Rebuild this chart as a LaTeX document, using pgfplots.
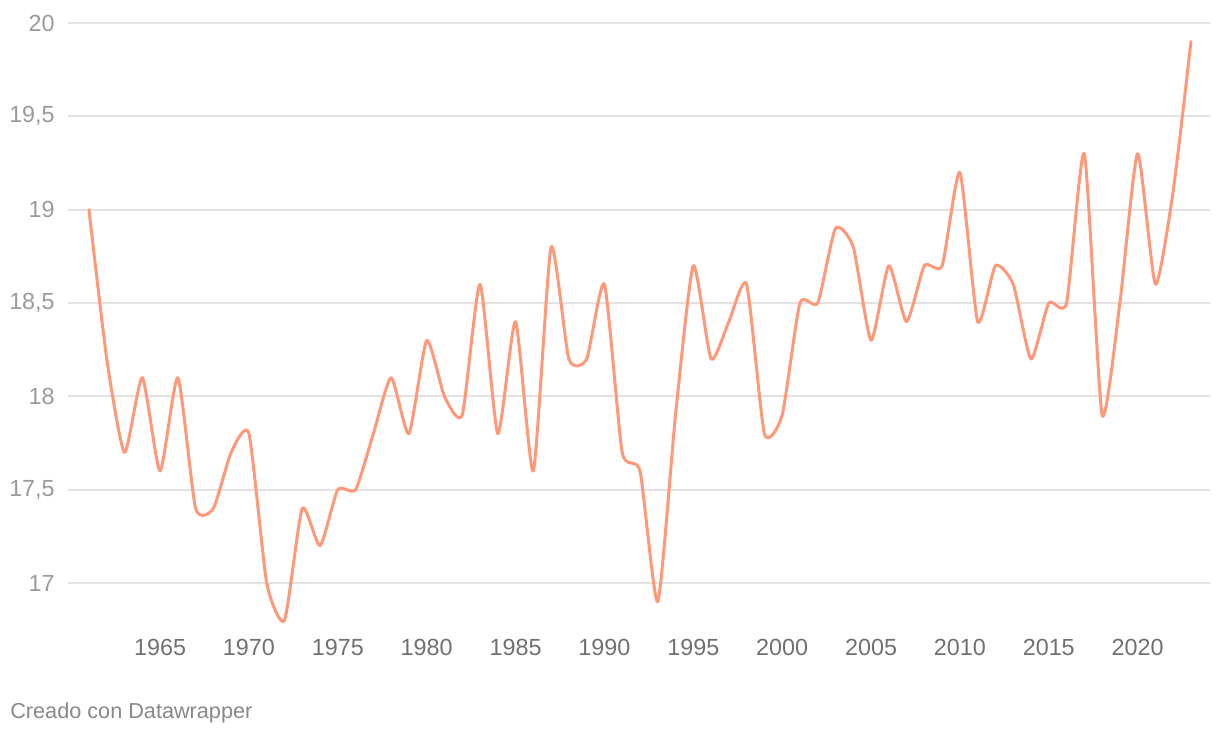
\documentclass[border=0pt]{standalone}
\usepackage{pgfplots}
\pgfplotsset{compat=1.18}
\usepackage{fontspec}
\setmainfont{Liberation Sans}
\definecolor{lineC}{HTML}{FF9878}
\definecolor{gridC}{HTML}{E2E2E2}
\definecolor{ylab}{HTML}{9A9A9A}
\definecolor{xlab}{HTML}{707070}
\definecolor{foot}{HTML}{888888}

% temperature series, one value per year
\pgfplotstableread{
year temp
1961 19.0
1962 18.2
1963 17.7
1964 18.1
1965 17.6
1966 18.1
1967 17.4
1968 17.4
1969 17.7
1970 17.8
1971 17.0
1972 16.8
1973 17.4
1974 17.2
1975 17.5
1976 17.5
1977 17.8
1978 18.1
1979 17.8
1980 18.3
1981 18.0
1982 17.9
1983 18.6
1984 17.8
1985 18.4
1986 17.6
1987 18.8
1988 18.2
1989 18.2
1990 18.6
1991 17.7
1992 17.6
1993 16.9
1994 17.9
1995 18.7
1996 18.2
1997 18.4
1998 18.6
1999 17.8
2000 17.9
2001 18.5
2002 18.5
2003 18.9
2004 18.8
2005 18.3
2006 18.7
2007 18.4
2008 18.7
2009 18.7
2010 19.2
2011 18.4
2012 18.7
2013 18.6
2014 18.2
2015 18.5
2016 18.5
2017 19.3
2018 17.9
2019 18.5
2020 19.3
2021 18.6
2022 19.1
2023 19.9
}\tempdata

\begin{document}
\begin{tikzpicture}
    % page frame: 1220 x 736 px at 0.6pt per px
    \path (0,0) rectangle (732pt,-441.6pt);

    \begin{axis}[
        at={(40.8pt,-377.8pt)}, anchor=south west,
        scale only axis,
        width=685.2pt, height=364pt,
        xmin=1959.82, xmax=2024.07,
        ymin=16.75, ymax=20,
        axis line style={draw=none},
        major tick length=0pt,
        xtick={1965,1970,...,2020},
        ytick={17,17.5,...,20},
        ymajorgrids,
        grid style={gridC, line width=1.2pt},
        tick label style={font=\fontsize{14}{16}\selectfont},
        yticklabel style={text=ylab, anchor=east, inner sep=0pt, xshift=-7.8pt},
        xticklabel style={text=xlab, anchor=north, inner sep=0pt, yshift=-5.5pt},
        /pgf/number format/assume math mode=true,
        /pgf/number format/use comma,
        /pgf/number format/1000 sep={},
        clip=false,
    ]
    \addplot[lineC, line width=1.8pt, smooth, tension=0.35, line cap=round, line join=round]
        table[x=year, y=temp] {\tempdata};
    \end{axis}

    \node[anchor=west, inner sep=0pt, text=foot, font=\fontsize{13}{15}\selectfont]
        at (6pt,-427.5pt) {Creado con Datawrapper};
\end{tikzpicture}
\end{document}
